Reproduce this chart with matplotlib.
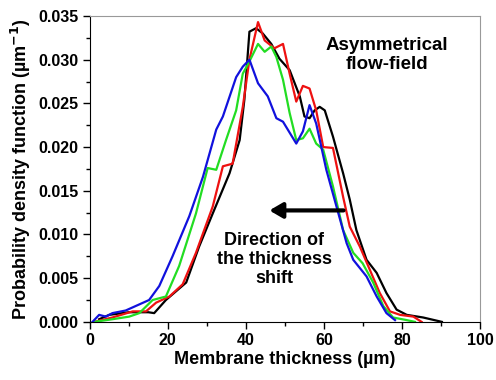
import matplotlib.pyplot as plt
from matplotlib.ticker import MultipleLocator

plt.rcParams['font.family'] = ['Liberation Sans', 'DejaVu Sans']
plt.rcParams['font.weight'] = 'bold'

# courbes (epaisseur en um, densite en um^-1)
x_noir = [2.4, 5, 10, 15, 16.5, 19.5, 24.7, 28, 31.5, 35.8, 38.4, 39.6, 40.9, 42.6, 44.3, 46.5,
          48.6, 51.2, 53.8, 55, 56.3, 57.6, 58.9, 60.2, 62.3, 64.9, 66.6, 68.3, 70.9, 73.5,
          76, 78.6, 81.2, 85.4, 90.2]
y_noir = [0.0003, 0.0008, 0.0011, 0.0011, 0.001, 0.0025, 0.0045, 0.0086, 0.0124, 0.017, 0.0208,
          0.0254, 0.0332, 0.0336, 0.033, 0.0318, 0.0301, 0.0288, 0.0258, 0.0235, 0.0233, 0.0242,
          0.0246, 0.0242, 0.0212, 0.017, 0.014, 0.0105, 0.0071, 0.0056, 0.0033, 0.0014,
          0.0008, 0.0005, 0.0]

x_rouge = [1.1, 5.8, 11, 14.4, 17, 20.4, 23.8, 27.2, 31.5, 34.1, 36.6, 39.2, 40.9, 43.1, 44.8,
           47.3, 49.5, 51.2, 52.9, 54.6, 56.3, 58, 59.8, 62.3, 64.9, 66.6, 69.2, 71.7, 74.3,
           76.9, 79.5, 82.9, 85]
y_rouge = [0.0, 0.0005, 0.0012, 0.0012, 0.0022, 0.0029, 0.0043, 0.0079, 0.0132, 0.0178, 0.0181,
           0.0246, 0.030, 0.0343, 0.0322, 0.0313, 0.0318, 0.0284, 0.0252, 0.027, 0.0267, 0.0242,
           0.020, 0.0199, 0.0143, 0.0109, 0.0086, 0.006, 0.0033, 0.0012, 0.0008, 0.0006, 0.0]

x_vert = [1.1, 5.8, 10.1, 12.7, 16.1, 19.5, 22.9, 27.2, 30.2, 32.4, 34.9, 37.5, 39.2, 40.9, 43.1,
          44.8, 46.5, 47.8, 49.5, 51.2, 52.9, 54.6, 56.3, 58, 59.8, 62.3, 64.9, 67.5, 69.9,
          72.6, 75.2, 77.7, 81.2, 83.3]
y_vert = [0.0, 0.0003, 0.0006, 0.001, 0.0025, 0.0029, 0.0064, 0.0124, 0.0176, 0.0174, 0.0208,
          0.0242, 0.0284, 0.0298, 0.0318, 0.0309, 0.0315, 0.0303, 0.0277, 0.0239, 0.0208, 0.021,
          0.0221, 0.0204, 0.0197, 0.0155, 0.0105, 0.0079, 0.0067, 0.0045, 0.0018, 0.0005,
          0.0002, 0.0]

x_bleu = [0.7, 2.4, 4.1, 5.8, 9.2, 12.7, 15.2, 17.8, 21.2, 25.5, 29, 32.4, 34.1, 37.5, 39.2, 40.9,
          43.1, 45.6, 47.8, 49.5, 52.9, 54.6, 56.3, 58, 60.6, 63.2, 65.8, 67.5, 70.9, 73.5,
          76, 78.2]
y_bleu = [0.0, 0.0008, 0.0006, 0.001, 0.0013, 0.002, 0.0025, 0.0041, 0.0075, 0.0121, 0.0166,
          0.022, 0.0235, 0.028, 0.0292, 0.030, 0.0273, 0.0258, 0.0233, 0.0229, 0.0204, 0.0218,
          0.0248, 0.0227, 0.0174, 0.0132, 0.009, 0.0071, 0.0052, 0.0029, 0.001, 0.0002]

fig = plt.figure(figsize=(4.96, 3.8), dpi=100)
ax = fig.add_axes([0.181, 0.153, 0.787, 0.805])

ax.plot(x_noir, y_noir, color='black', lw=1.6)
ax.plot(x_rouge, y_rouge, color='#ee1111', lw=1.6)
ax.plot(x_vert, y_vert, color='#22dd22', lw=1.6)
ax.plot(x_bleu, y_bleu, color='#1111dd', lw=1.6)

# fleche de decalage
ax.annotate('', xy=(46, 0.01275), xytext=(65, 0.01275),
            arrowprops=dict(arrowstyle='-|>,head_length=0.6,head_width=0.35',
                            lw=3, color='black', mutation_scale=13, shrinkA=0, shrinkB=0))
ax.text(47.3, 0.0071, 'Direction of\nthe thickness\nshift', ha='center', va='center',
        fontsize=13, fontweight='bold', linespacing=1.15)
ax.text(76, 0.0305, 'Asymmetrical\nflow-field', ha='center', va='center',
        fontsize=13.5, fontweight='bold', linespacing=1.15)

ax.set_xlim(0, 100)
ax.set_ylim(0, 0.035)
ax.xaxis.set_major_locator(MultipleLocator(20))
ax.xaxis.set_minor_locator(MultipleLocator(10))
ax.yaxis.set_major_locator(MultipleLocator(0.005))
ax.yaxis.set_minor_locator(MultipleLocator(0.0025))
ax.yaxis.set_major_formatter(plt.FuncFormatter(lambda v, p: f'{v:.3f}'))
ax.tick_params(which='major', direction='out', length=5, width=1, labelsize=11.5, pad=3)
ax.tick_params(which='minor', direction='out', length=3, width=1)
ax.tick_params(top=False, right=False)
for s in ['top', 'right']:
    ax.spines[s].set_color('#999999')

ax.set_xlabel('Membrane thickness (µm)', fontsize=13, fontweight='bold', labelpad=2)
ax.set_ylabel('Probability density function (µm$^{\\mathbf{-1}}$)', fontsize=13,
              fontweight='bold', labelpad=4)

fig.savefig('out.png', dpi=100)
